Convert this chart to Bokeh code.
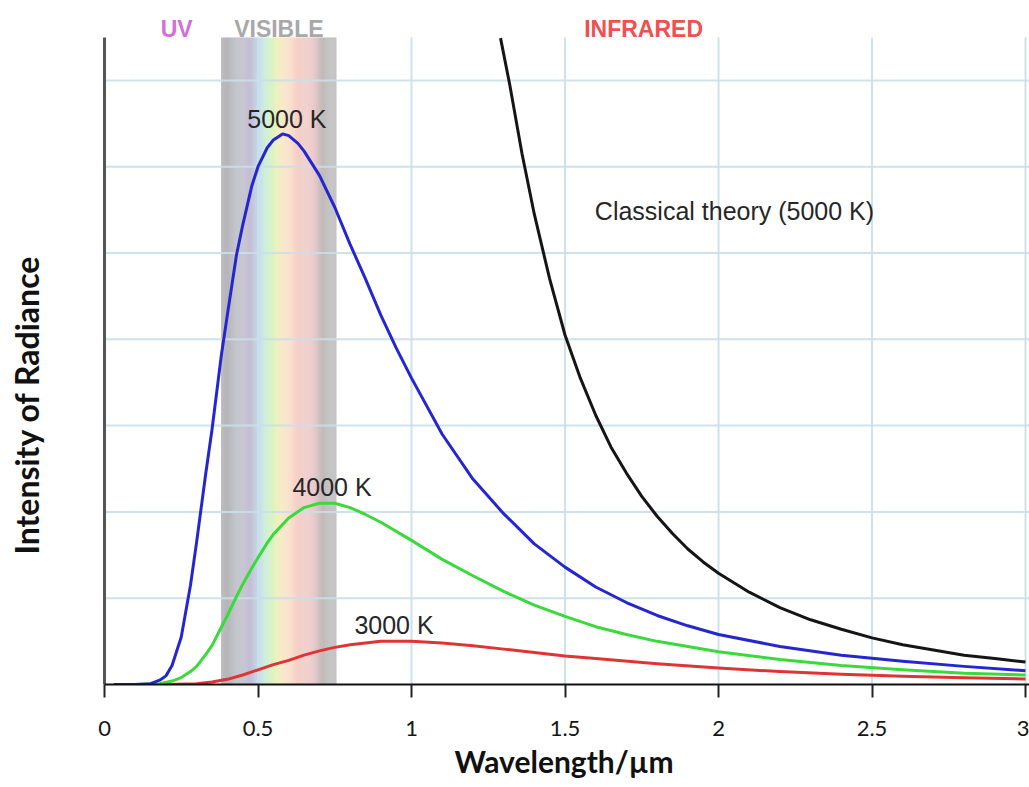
from bokeh.plotting import figure
from bokeh.models import Range1d, FixedTicker, Label, Title
from bokeh.embed import file_html
from bokeh.resources import INLINE

# ---- data ----
wavelength_5000 = [0.03, 0.10, 0.15, 0.18, 0.20, 0.22, 0.25, 0.28, 0.30, 0.33, 0.35, 0.38, 0.40,
                   0.43, 0.45, 0.48, 0.50, 0.53, 0.55, 0.58, 0.60, 0.63, 0.65, 0.70, 0.75, 0.80,
                   0.85, 0.90, 0.95, 1.00, 1.10, 1.20, 1.30, 1.40, 1.50, 1.60, 1.70, 1.80, 1.90,
                   2.00, 2.20, 2.40, 2.60, 2.80, 3.00]
intensity_5000 = [0.0, 0.0, 0.01, 0.05, 0.10, 0.22, 0.55, 1.15, 1.65, 2.45, 2.95, 3.80, 4.28,
                  4.98, 5.32, 5.78, 6.00, 6.22, 6.31, 6.38, 6.36, 6.27, 6.18, 5.90, 5.53, 5.10,
                  4.70, 4.28, 3.90, 3.55, 2.90, 2.38, 1.98, 1.63, 1.36, 1.13, 0.95, 0.80, 0.68,
                  0.58, 0.44, 0.34, 0.27, 0.21, 0.16]

wavelength_4000 = [0.10, 0.18, 0.22, 0.25, 0.28, 0.30, 0.33, 0.35, 0.38, 0.40, 0.43, 0.45, 0.48,
                   0.50, 0.53, 0.55, 0.60, 0.65, 0.70, 0.75, 0.80, 0.85, 0.90, 1.00, 1.10, 1.20,
                   1.30, 1.40, 1.50, 1.60, 1.70, 1.80, 2.00, 2.20, 2.40, 2.60, 2.80, 3.00]
intensity_4000 = [0.0, 0.01, 0.04, 0.08, 0.15, 0.21, 0.35, 0.45, 0.66, 0.80, 1.02, 1.16, 1.35,
                  1.47, 1.64, 1.74, 1.93, 2.05, 2.10, 2.10, 2.05, 1.97, 1.88, 1.67, 1.45, 1.26,
                  1.08, 0.92, 0.79, 0.67, 0.58, 0.50, 0.38, 0.29, 0.22, 0.17, 0.13, 0.11]

wavelength_3000 = [0.20, 0.30, 0.35, 0.40, 0.45, 0.50, 0.55, 0.60, 0.65, 0.70, 0.75, 0.80, 0.85,
                   0.90, 0.95, 1.00, 1.10, 1.20, 1.30, 1.40, 1.50, 1.60, 1.80, 2.00, 2.20, 2.40,
                   2.60, 2.80, 3.00]
intensity_3000 = [0.0, 0.01, 0.03, 0.06, 0.11, 0.17, 0.23, 0.28, 0.34, 0.39, 0.43, 0.46, 0.48,
                  0.50, 0.50, 0.50, 0.48, 0.45, 0.41, 0.37, 0.33, 0.30, 0.24, 0.19, 0.15, 0.12,
                  0.095, 0.078, 0.064]

wavelength_classical = [1.29, 1.32, 1.36, 1.40, 1.45, 1.50, 1.55, 1.60, 1.65, 1.70, 1.75, 1.80,
                        1.85, 1.90, 1.95, 2.00, 2.10, 2.20, 2.30, 2.40, 2.50, 2.60, 2.70, 2.80,
                        2.90, 3.00]
intensity_classical = [7.49, 6.95, 6.15, 5.45, 4.70, 4.05, 3.55, 3.12, 2.75, 2.45, 2.18, 1.95,
                       1.75, 1.57, 1.42, 1.29, 1.07, 0.89, 0.75, 0.64, 0.54, 0.46, 0.40, 0.34,
                       0.30, 0.26]

x_ticks = [0, 0.5, 1, 1.5, 2, 2.5, 3]
x_tick_labels = ["0", "0.5", "1", "1.5", "2", "2.5", "3"]
x_grid_lines = [0.5, 1, 1.5, 2, 2.5, 3]
y_grid_lines = [1, 2, 3, 4, 5, 6, 7]

visible_band = [0.38, 0.755]
curve_labels = ["5000 K", "4000 K", "3000 K", "Classical theory (5000 K)"]
region_labels = ["UV", "VISIBLE", "INFRARED"]

# ---- figure ----
X_MIN, X_MAX = -0.3388, 3.013
Y_PLOT_TOP = 7.497      # top of the drawn plotting area
Y_MAX = 7.926           # top of the canvas
p = figure(width=1029, height=787, output_backend="svg", toolbar_location=None,
           x_range=Range1d(X_MIN, X_MAX), y_range=Range1d(0, Y_MAX),
           y_axis_location=None,
           min_border_left=0, min_border_right=0, min_border_top=0, min_border_bottom=103)
p.outline_line_color = None
p.background_fill_color = "white"
p.border_fill_color = "white"
p.xgrid.visible = False
p.ygrid.visible = False

# visible spectrum band (gradient built from colour stops)
stops = [(0.000, (180, 180, 184)), (0.170, (186, 186, 196)), (0.250, (198, 190, 214)),
         (0.333, (188, 216, 232)), (0.400, (200, 240, 204)), (0.480, (236, 242, 186)),
         (0.560, (248, 224, 194)), (0.667, (246, 208, 200)), (0.800, (230, 194, 194)),
         (0.893, (190, 186, 186)), (1.000, (184, 184, 184))]
n_slices = 120
lefts, rights, cols = [], [], []
b0, b1 = visible_band
for i in range(n_slices):
    t = (i + 0.5) / n_slices
    for j in range(len(stops) - 1):
        if stops[j][0] <= t <= stops[j + 1][0]:
            f = (t - stops[j][0]) / (stops[j + 1][0] - stops[j][0])
            c = tuple(int(round(stops[j][1][k] + f * (stops[j + 1][1][k] - stops[j][1][k]))) for k in range(3))
            break
    lefts.append(b0 + (b1 - b0) * i / n_slices)
    rights.append(b0 + (b1 - b0) * (i + 1) / n_slices + 0.0005)
    cols.append("#%02x%02x%02x" % c)
p.quad(left=lefts, right=rights, bottom=0, top=Y_PLOT_TOP, fill_color=cols, line_color=None)

# grid lines, limited to the plotting area
p.segment(x0=x_grid_lines, y0=[0] * len(x_grid_lines), x1=x_grid_lines,
          y1=[Y_PLOT_TOP] * len(x_grid_lines), line_color="#c9dfe9", line_width=2, line_alpha=0.9)
p.segment(x0=[0] * len(y_grid_lines), y0=y_grid_lines, x1=[X_MAX] * len(y_grid_lines),
          y1=y_grid_lines, line_color="#c9dfe9", line_width=2, line_alpha=0.9)

# x axis
xa = p.xaxis[0]
xa.bounds = (0, X_MAX)
xa.ticker = FixedTicker(ticks=x_ticks)
xa.major_label_overrides = {t: s for t, s in zip(x_ticks, x_tick_labels)}
xa.major_label_text_font = "Lato"
xa.major_label_text_font_size = "22px"
xa.major_label_text_color = "#151515"
xa.major_label_standoff = 23
xa.major_tick_out = 13
xa.major_tick_in = 0
xa.major_tick_line_width = 2
xa.major_tick_line_color = "#222222"
xa.minor_tick_line_color = None
xa.axis_line_color = "#111111"
xa.axis_line_width = 2

# x axis title (placed under the middle of the wavelength axis)
p.add_layout(Title(text="Wavelength/\u00b5m", align="left", offset=454, standoff=4,
                   text_font="Lato", text_font_style="bold", text_font_size="30px",
                   text_color="#111111"), "below")

# y axis line (at wavelength 0)
p.segment(x0=[0], y0=[0], x1=[0], y1=[Y_PLOT_TOP], line_color="#555555", line_width=3)

# curves
p.line(wavelength_classical, intensity_classical, line_width=3, color="#151515", line_join="round")
p.line(wavelength_3000, intensity_3000, line_width=3, color="#e03434", line_join="round")
p.line(wavelength_4000, intensity_4000, line_width=3, color="#3ada3a", line_join="round")
p.line(wavelength_5000, intensity_5000, line_width=3, color="#2626d0", line_join="round")

# curve labels
label_x = [0.594, 0.741, 0.943, 2.052]
label_y = [6.55, 2.29, 0.69, 5.49]
for txt, lx, ly in zip(curve_labels, label_x, label_y):
    p.add_layout(Label(x=lx, y=ly, text=txt, text_align="center", text_baseline="middle",
                       text_font="Liberation Sans", text_font_size="25px", text_color="#262626"))

# region labels above the plotting area
reg_x = [0.235, 0.568, 1.756]
reg_col = ["#d070d8", "#a8a8a8", "#f05050"]
for txt, lx, c in zip(region_labels, reg_x, reg_col):
    p.add_layout(Label(x=lx, y=7.60, text=txt, text_align="center", text_baseline="middle",
                       text_font="Liberation Sans", text_font_style="bold", text_font_size="23px",
                       text_color=c))

# y axis title
p.add_layout(Label(x=-0.254, y=3.24, text="Intensity of Radiance", angle=1.5707963,
                   text_align="center", text_baseline="middle", text_font="Lato",
                   text_font_style="bold", text_font_size="32px", text_color="#111111"))

open("out.html", "w").write(file_html(p, INLINE))
